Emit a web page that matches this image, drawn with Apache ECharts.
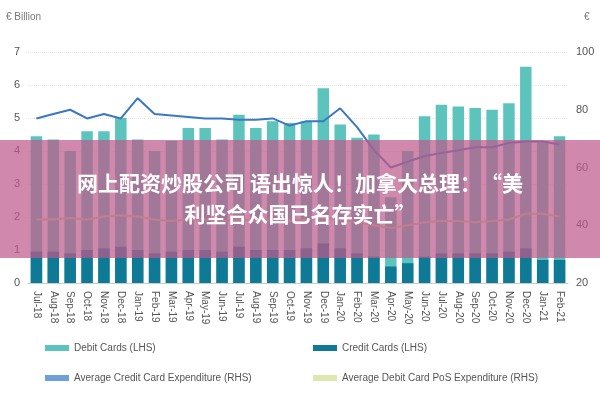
<!DOCTYPE html><html><head><meta charset="utf-8"><script src="https://cdn.jsdelivr.net/npm/echarts@6/dist/echarts.min.js"></script>
<style>body{margin:0}#c{width:600px;height:400px}</style></head><body><div id="c"></div><script>
const categories=['Jul-18','Aug-18','Sep-18','Oct-18','Nov-18','Dec-18','Jan-19','Feb-19','Mar-19','Apr-19','May-19','Jun-19','Jul-19','Aug-19','Sep-19','Oct-19','Nov-19','Dec-19','Jan-20','Feb-20','Mar-20','Apr-20','May-20','Jun-20','Jul-20','Aug-20','Sep-20','Oct-20','Nov-20','Dec-20','Jan-21','Feb-21'];
const debitTotal=[4.45,4.35,4.0,4.6,4.6,5.0,4.35,4.0,4.3,4.7,4.7,4.35,5.1,4.7,4.9,4.85,4.9,5.9,4.8,4.4,4.5,2.6,4.0,5.05,5.4,5.35,5.3,5.25,5.45,6.55,4.3,4.45];
const credit=[0.95,0.95,0.9,1.0,1.05,1.1,1.0,0.9,0.95,1.0,1.0,0.95,1.1,1.0,1.0,1.0,1.05,1.2,1.05,0.9,0.8,0.5,0.6,0.8,0.9,0.9,0.9,0.9,0.95,1.05,0.7,0.7];
const avgCredit=[77,78.5,80,77,78.5,77,84,78.5,78,77.5,77,77,76.5,76.5,77,74.5,76,76,80.5,74,66,60,62,64,65,66,67,67,68.5,69,69,68];
const avgDebit=[42,42,42.5,42,43,43.5,43,42,41.5,42,42,41.5,42,41.5,42,41.5,42,42.5,42,41,40,39,40,41,41.5,41.5,41,41.5,42,44,44,43];
const c=echarts.init(document.getElementById('c'));
const ax={color:'#555',fontFamily:'Liberation Sans',fontSize:11};
const lg={orient:'vertical',itemGap:20,itemWidth:24,itemHeight:6,textStyle:{color:'#555',fontSize:10}};
c.setOption({animation:false,
grid:{left:28,right:32,top:52,bottom:117},
xAxis:{type:'category',data:categories,axisTick:{show:false},axisLine:{lineStyle:{color:'#ccc'}},axisLabel:{...ax,rotate:-90,fontSize:10,interval:0}},
yAxis:[{type:'value',min:0,max:7,interval:1,axisLabel:ax,splitLine:{lineStyle:{color:'#e6e6e6',type:'dotted'}}},
{type:'value',min:20,max:100,interval:20,axisLabel:ax,splitLine:{show:false}}],
legend:[{...lg,left:40,top:338,data:[{name:'Debit Cards (LHS)',icon:'rect'},{name:'Average Credit Card Expenditure (RHS)',icon:'rect',itemStyle:{color:'#6fa0d8'}}]},
{...lg,left:308,top:338,data:[{name:'Credit Cards (LHS)',icon:'rect'},{name:'Average Debit Card PoS Expenditure (RHS)',icon:'rect',itemStyle:{color:'#dde8b0'}}]}],
series:[{name:'Debit Cards (LHS)',type:'bar',data:debitTotal,barWidth:'68%',itemStyle:{color:'#5cc4bc'}},
{name:'Credit Cards (LHS)',type:'bar',data:credit,barWidth:'68%',barGap:'-100%',itemStyle:{color:'#0f7a95'}},
{name:'Average Credit Card Expenditure (RHS)',type:'line',yAxisIndex:1,data:avgCredit,symbol:'none',lineStyle:{color:'#3a78c2',width:2},itemStyle:{color:'#6fa0d8'}},
{name:'Average Debit Card PoS Expenditure (RHS)',type:'line',yAxisIndex:1,data:avgDebit,symbol:'none',lineStyle:{color:'#c9d98c',width:2},itemStyle:{color:'#dde8b0'}}],
graphic:[{type:'text',left:6,top:12,style:{text:'€ Billion',fill:'#777',fontSize:10}},
{type:'text',left:584,top:12,style:{text:'€',fill:'#777',fontSize:10}},
{type:'rect',shape:{x:0,y:140,width:600,height:118},style:{fill:'rgba(190,90,140,0.72)'},z:100},
{type:'text',x:300,y:183,z:101,style:{text:'网上配资炒股公司 语出惊人！加拿大总理：“美',fill:'#fff',fontSize:21,fontWeight:'bold',fontFamily:'Noto Sans CJK SC',align:'center',verticalAlign:'middle'}},
{type:'text',x:300,y:214,z:101,style:{text:'利坚合众国已名存实亡”',fill:'#fff',fontSize:21,fontWeight:'bold',fontFamily:'Noto Sans CJK SC',align:'center',verticalAlign:'middle'}}]
});
</script></body></html>
